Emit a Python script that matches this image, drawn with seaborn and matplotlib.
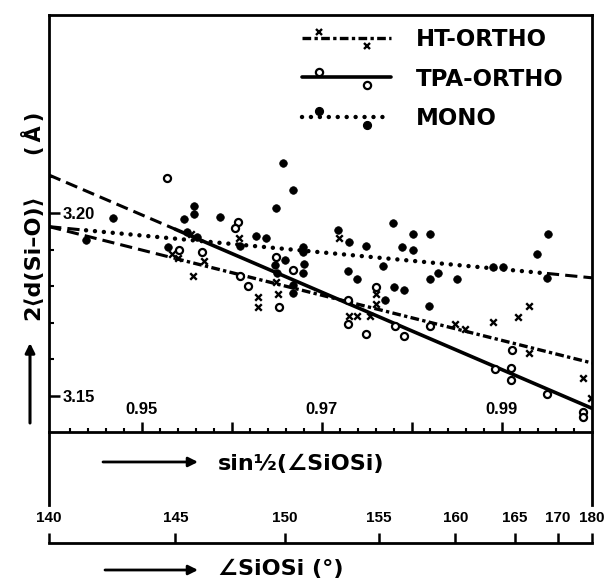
import numpy as np
import pandas as pd
import matplotlib
matplotlib.use("Agg")
import matplotlib.pyplot as plt
import seaborn as sns
from matplotlib.lines import Line2D
from matplotlib.legend_handler import HandlerBase
from matplotlib.ticker import FixedLocator, FixedFormatter, NullFormatter

# ---------------- data (x = sin(1/2 SiOSi), y = 2<d(Si-O)> in Angstrom) ----------------
mono_x = [0.9438, 0.9468, 0.9529, 0.9547, 0.9558, 0.9558, 0.9550, 0.9561, 0.9587, 0.9627,
          0.9638, 0.9649, 0.9657, 0.9668, 0.9609, 0.9648, 0.9650, 0.9659, 0.9668, 0.9668,
          0.9679, 0.9679, 0.9680, 0.9679, 0.9718, 0.9730, 0.9749, 0.9779, 0.9801, 0.9820,
          0.9789, 0.9801, 0.9768, 0.9729, 0.9739, 0.9820, 0.9829, 0.9850, 0.9780, 0.9791,
          0.9770, 0.9819, 0.9890, 0.9901, 0.9939, 0.9951, 0.9950]
mono_y = [3.1926, 3.1988, 3.1908, 3.1983, 3.2019, 3.1997, 3.1948, 3.1934, 3.1990, 3.1937,
          3.1931, 3.2015, 3.2138, 3.2063, 3.1910, 3.1858, 3.1836, 3.1871, 3.1803, 3.1782,
          3.1908, 3.1894, 3.1862, 3.1835, 3.1953, 3.1921, 3.1911, 3.1972, 3.1944, 3.1944,
          3.1906, 3.1899, 3.1856, 3.1842, 3.1819, 3.1819, 3.1837, 3.1819, 3.1798, 3.1789,
          3.1762, 3.1746, 3.1853, 3.1853, 3.1888, 3.1944, 3.1823]

tpa_x = [0.9528, 0.9541, 0.9567, 0.9607, 0.9603, 0.9609, 0.9618, 0.9649, 0.9668, 0.9652,
         0.9760, 0.9729, 0.9729, 0.9749, 0.9781, 0.9791, 0.9820, 0.9892, 0.9911, 0.9910,
         0.9910, 0.9950, 0.9990, 0.9990]
tpa_y = [3.2096, 3.1898, 3.1894, 3.1975, 3.1958, 3.1828, 3.1801, 3.1880, 3.1844, 3.1744,
         3.1798, 3.1762, 3.1698, 3.1669, 3.1691, 3.1663, 3.1691, 3.1573, 3.1625, 3.1575,
         3.1543, 3.1504, 3.1456, 3.1443]

ht_x = [0.9557, 0.9569, 0.9534, 0.9540, 0.9555, 0.9608, 0.9629, 0.9629, 0.9651, 0.9649,
        0.9719, 0.9760, 0.9760, 0.9730, 0.9739, 0.9753, 0.9848, 0.9859, 0.9890, 0.9918,
        0.9930, 0.9930, 0.9990, 0.9999]
ht_y = [3.1827, 3.1869, 3.1888, 3.1877, 3.1943, 3.1932, 3.1771, 3.1744, 3.1780, 3.1811,
        3.1931, 3.1778, 3.1751, 3.1719, 3.1719, 3.1719, 3.1696, 3.1682, 3.1701, 3.1716,
        3.1745, 3.1616, 3.1549, 3.1493]

# regression lines: extrapolated part (dashed) and fitted part
tpa_fit_x = [0.9397, 0.9537, 1.0000]
tpa_fit_y = [3.2104, 3.1956, 3.1466]
ht_fit_x = [0.9397, 0.9537, 1.0000]
ht_fit_y = [3.1963, 3.1876, 3.1590]
mono_fit_x = [0.9397, 0.9438, 0.9950, 1.0000]
mono_fit_y = [3.1963, 3.1953, 3.1835, 3.1823]

series_labels = ["HT-ORTHO", "TPA-ORTHO", "MONO"]

sin_major = [0.95, 0.96, 0.97, 0.98, 0.99]
sin_major_labels = ["0.95", "", "0.97", "", "0.99"]
sin_minor = [0.942, 0.944, 0.946, 0.948, 0.952, 0.954, 0.956, 0.958, 0.962, 0.964, 0.966, 0.968,
             0.972, 0.974, 0.976, 0.978, 0.982, 0.984, 0.986, 0.988, 0.992, 0.994, 0.996, 0.998]
y_major = [3.15, 3.20]
y_major_labels = ["3.15", "3.20"]
y_minor = [3.16, 3.17, 3.18, 3.19, 3.21]
angle_ticks = [140, 145, 150, 155, 160, 165, 170, 180]

XLIM = (0.939685, 1.000005)
YLIM = (3.1402, 3.2542)

# ---------------- style ----------------
sns.set_theme(style="white")
plt.rcParams["font.family"] = ["DejaVu Sans"]
plt.rcParams["font.weight"] = "bold"
plt.rcParams["text.color"] = "black"
plt.rcParams["axes.labelcolor"] = "black"
plt.rcParams["xtick.color"] = "black"
plt.rcParams["ytick.color"] = "black"
NUMFONT = ["Liberation Sans", "DejaVu Sans"]

W, H = 610, 579
fig = plt.figure(figsize=(W / 100, H / 100), dpi=100)
fig.patch.set_facecolor("white")


def fbox(x0, y0, x1, y1):
    return [x0 / W, 1 - y1 / H, (x1 - x0) / W, (y1 - y0) / H]


ax = fig.add_axes(fbox(49, 15, 592, 431.7))
ax_mid = fig.add_axes(fbox(49, 431.7, 592, 505))
ax_ang = fig.add_axes(fbox(49, 532.7, 592, 542.7))

# ---------------- scatter points ----------------
df_mono = pd.DataFrame({"x": mono_x, "y": mono_y})
df_tpa = pd.DataFrame({"x": tpa_x, "y": tpa_y})
df_ht = pd.DataFrame({"x": ht_x, "y": ht_y})

sns.scatterplot(data=df_mono, x="x", y="y", ax=ax, marker="o", s=30, color="black",
                edgecolor="black", linewidth=0.5, zorder=4, legend=False)
sns.scatterplot(data=df_tpa, x="x", y="y", ax=ax, marker="o", s=26, color="white",
                edgecolor="black", linewidth=1.6, zorder=5, legend=False)
sns.scatterplot(data=df_ht, x="x", y="y", ax=ax, marker="x", s=22, color="black",
                linewidth=1.7, zorder=5, legend=False)

# ---------------- regression lines ----------------
DASH = (0, (4, 2))
DASHDOT = (0, (2.6, 1.0, 1.0, 1.0))
DOT = (0, (0.01, 2.0))

ax.plot(tpa_fit_x[:2], tpa_fit_y[:2], color="black", lw=2.2, linestyle=DASH, zorder=3)
ax.plot(tpa_fit_x[1:], tpa_fit_y[1:], color="black", lw=2.6, linestyle="-", zorder=3)
ax.plot(ht_fit_x[:2], ht_fit_y[:2], color="black", lw=2.2, linestyle=DASH, zorder=3)
ax.plot(ht_fit_x[1:], ht_fit_y[1:], color="black", lw=2.4, linestyle=DASHDOT, zorder=3)
ax.plot(mono_fit_x[:2], mono_fit_y[:2], color="black", lw=2.2, linestyle=DASH, zorder=3)
ax.plot(mono_fit_x[1:3], mono_fit_y[1:3], color="black", lw=3.2, linestyle=DOT,
        dash_capstyle="round", zorder=3)
ax.plot(mono_fit_x[2:], mono_fit_y[2:], color="black", lw=2.2, linestyle=DASH, zorder=3)

# ---------------- main axes formatting ----------------
ax.set_xlim(*XLIM)
ax.set_ylim(*YLIM)
ax.set_xlabel("")
ax.set_ylabel("")
ax.set_facecolor("white")
for sp in ax.spines.values():
    sp.set_visible(True)
    sp.set_color("black")
    sp.set_linewidth(2.0)

ax.xaxis.set_major_locator(FixedLocator(sin_major))
ax.xaxis.set_major_formatter(FixedFormatter(sin_major_labels))
ax.xaxis.set_minor_locator(FixedLocator(sin_minor))
ax.xaxis.set_minor_formatter(NullFormatter())
ax.yaxis.set_major_locator(FixedLocator(y_major))
ax.yaxis.set_major_formatter(FixedFormatter(y_major_labels))
ax.yaxis.set_minor_locator(FixedLocator(y_minor))
ax.yaxis.set_minor_formatter(NullFormatter())

ax.tick_params(axis="x", which="major", direction="in", bottom=True, top=False,
               length=7.2, width=1.8, pad=-12.5, labelsize=12, colors="black")
ax.tick_params(axis="x", which="minor", direction="in", bottom=True, top=False,
               length=2.6, width=1.5)
ax.tick_params(axis="y", which="major", direction="in", left=True, right=False,
               length=8.0, width=1.8, pad=-10.0, labelsize=12, colors="black")
ax.tick_params(axis="y", which="minor", direction="in", left=True, right=False,
               length=3.6, width=1.5)
for t in ax.get_xticklabels():
    t.set_va("baseline")
    t.set_family(NUMFONT)
    t.set_weight("bold")
for t in ax.get_yticklabels():
    t.set_ha("left")
    t.set_family(NUMFONT)
    t.set_weight("bold")


# ---------------- legend with offset markers ----------------
class OffsetMarkerHandler(HandlerBase):
    def create_artists(self, legend, orig_handle, xdescent, ydescent, width, height,
                       fontsize, trans):
        y0 = height / 2.0 - ydescent
        x0 = -xdescent
        line = Line2D([x0, x0 + width], [y0, y0])
        line.update_from(orig_handle)
        line.set_marker("")
        mk = Line2D([x0 + 0.19 * width, x0 + 0.73 * width],
                    [y0 + 0.36 * height, y0 - 0.48 * height])
        mk.update_from(orig_handle)
        mk.set_linestyle("None")
        line.set_transform(trans)
        mk.set_transform(trans)
        return [line, mk]


h_ht = Line2D([], [], color="black", lw=2.4, linestyle=DASHDOT, marker="x",
              markersize=5, markeredgewidth=1.7, markeredgecolor="black")
h_tpa = Line2D([], [], color="black", lw=2.6, linestyle="-", marker="o",
               markersize=5.2, markerfacecolor="white", markeredgecolor="black",
               markeredgewidth=1.6)
h_mono = Line2D([], [], color="black", lw=3.2, linestyle=DOT, dash_capstyle="round",
                marker="o", markersize=5.6, markerfacecolor="black", markeredgecolor="black")

leg = ax.legend([h_ht, h_tpa, h_mono], series_labels, loc="upper left",
                bbox_to_anchor=((302 - 49) / 543, (431.7 - 28) / 416.7),
                frameon=False, borderpad=0, borderaxespad=0, handlelength=3.9,
                handletextpad=1.05, labelspacing=0.72,
                prop={"family": "DejaVu Sans", "weight": "bold", "size": 16.5},
                handler_map={Line2D: OffsetMarkerHandler()})
for t in leg.get_texts():
    t.set_color("black")

# ---------------- middle band: sin axis label ----------------
ax_mid.set_xlim(*XLIM)
ax_mid.patch.set_visible(False)
ax_mid.set_xticks([])
ax_mid.set_yticks([])
for side in ["top", "bottom"]:
    ax_mid.spines[side].set_visible(False)
for side in ["left", "right"]:
    ax_mid.spines[side].set_visible(True)
    ax_mid.spines[side].set_color("black")
    ax_mid.spines[side].set_linewidth(2.0)
ax_mid.annotate("", xy=((198 - 49) / 543, 0.587), xytext=((103 - 49) / 543, 0.587),
                xycoords="axes fraction",
                arrowprops=dict(arrowstyle="-|>", lw=2.0, color="black",
                                mutation_scale=14, shrinkA=0, shrinkB=0))
ax_mid.text((218 - 49) / 543, 0.56, "sin½(∠SiOSi)", transform=ax_mid.transAxes,
            ha="left", va="center", fontsize=16, fontweight="bold", color="black")

# ---------------- angle axis ----------------
angle_pos = [float(np.sin(np.radians(a / 2.0))) for a in angle_ticks]
ax_ang.set_xlim(*XLIM)
ax_ang.patch.set_visible(False)
for side in ["top", "left", "right"]:
    ax_ang.spines[side].set_visible(False)
ax_ang.spines["bottom"].set_visible(True)
ax_ang.spines["bottom"].set_color("black")
ax_ang.spines["bottom"].set_linewidth(2.0)
ax_ang.set_yticks([])
ax_ang.xaxis.set_major_locator(FixedLocator(angle_pos))
ax_ang.xaxis.set_major_formatter(FixedFormatter([str(a) for a in angle_ticks]))
ax_ang.tick_params(axis="x", which="major", direction="in", bottom=True, top=False,
                   labelbottom=False, labeltop=True, length=7.2, width=1.8, pad=5.5,
                   labelsize=11, colors="black")
for t in ax_ang.get_xticklabels(which="major"):
    t.set_family(NUMFONT)
    t.set_weight("bold")

ax_ang.annotate("", xy=(198 / W, 1 - 570 / H), xytext=(105 / W, 1 - 570 / H),
                xycoords="figure fraction",
                arrowprops=dict(arrowstyle="-|>", lw=2.0, color="black",
                                mutation_scale=14, shrinkA=0, shrinkB=0))
fig.text(218 / W, 1 - 569 / H, "∠SiOSi (°)", ha="left", va="center", fontsize=16,
         fontweight="bold", color="black")

# ---------------- y label with arrow ----------------
fig.text(33 / W, 1 - 257 / H, "2⟨d(Si–O)⟩", rotation=90, ha="center", va="center",
         fontsize=16, fontweight="bold", color="black",
         family=["DejaVu Sans", "Noto Sans", "Noto Sans CJK SC"])
fig.text(33 / W, 1 - 133 / H, "(\u2009Å\u2009)", rotation=90, ha="center", va="center",
         fontsize=15, fontweight="bold", color="black")
ax.annotate("", xy=(30 / W, 1 - 343 / H), xytext=(30 / W, 1 - 423 / H),
            xycoords="figure fraction",
            arrowprops=dict(arrowstyle="-|>", lw=2.2, color="black",
                            mutation_scale=14, shrinkA=0, shrinkB=0))

fig.savefig("out.png", dpi=100, facecolor="white")
